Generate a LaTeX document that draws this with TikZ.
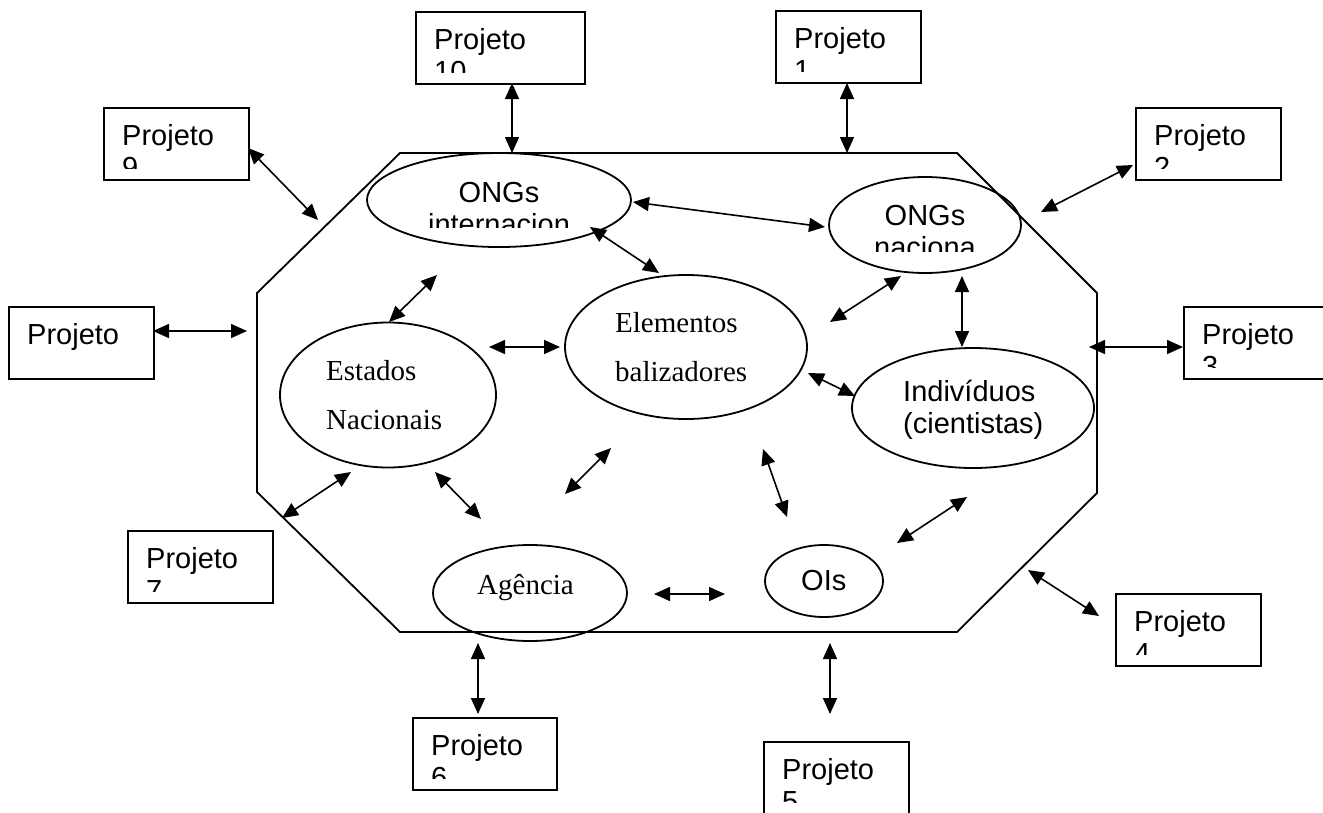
\documentclass[tikz,border=0pt]{standalone}
\usepackage{fontspec}
\setmainfont{Liberation Serif}
\newfontfamily\arialfont{Liberation Sans}
\usetikzlibrary{positioning, shapes.geometric, arrows.meta}

\tikzset{
  projbox/.style={draw, rectangle, line width=1.8pt, inner sep=0pt, anchor=north west},
  elbox/.style={draw, ellipse, line width=1.8pt, inner sep=0pt},
  sanstxt/.style={font=\arialfont\fontsize{29}{32}\selectfont, inner sep=0pt},
  serftxt/.style={font=\fontsize{29}{49}\selectfont, inner sep=0pt},
  dbl/.style={{Triangle[length=16pt,width=14pt]}-{Triangle[length=16pt,width=14pt]}, line width=1.6pt},
}

\begin{document}
\begin{tikzpicture}[x=1pt, y=-1pt]
  \useasboundingbox (0,0) rectangle (1323,812);

  % outer octagon
  \draw[line width=1.8pt] (400,153) -- (957,153) -- (1097,293) -- (1097,493)
    -- (957,632) -- (400,632) -- (257,492) -- (257,293) -- cycle;

  % project boxes
  \foreach \nm/\bx/\by/\bw/\num in {p10/415/11/169/10, p1/775/10/145/1,
      p9/103/107/145/9, p2/1135/107/145/2, p3/1183/306/145/3,
      p7/127/530/145/7, p4/1115/593/145/4, p6/412/717/144/6, p5/763/741/145/5} {
    \node[projbox, minimum width=\bw, minimum height=72] (\nm) at (\bx,\by) {};
    \begin{scope}
      \clip (\bx,\by) rectangle ++(\bw,61);
      \node[sanstxt, align=left, anchor=base west] (\nm-txt) at (\bx+19,\by+70) {Projeto\\\num};
    \end{scope}
  }
  \node[projbox, minimum width=145, minimum height=72] (p8) at (8,306) {};
  \node[sanstxt, anchor=base west] (p8-txt) at (27,344) {Projeto};

  % actors
  \node[elbox, minimum width=264, minimum height=94] (ongi) at (499,200) {};
  \node[elbox, minimum width=192, minimum height=96] (ongn) at (925,225) {};
  \node[elbox, minimum width=242, minimum height=144] (ele) at (686,347) {};
  \node[elbox, minimum width=216, minimum height=145] (est) at (388,395) {};
  \node[elbox, minimum width=242, minimum height=120] (ind) at (973,408) {};
  \node[elbox, minimum width=194, minimum height=96] (age) at (530,593) {};
  \node[elbox, minimum width=118, minimum height=72] (ois) at (824,581) {};

  \begin{scope}
    \clip (360,150) rectangle (640,227);
    \node[sanstxt, align=center, anchor=base] (ongi-txt) at (499,234) {ONGs\\internacion};
  \end{scope}
  \begin{scope}
    \clip (820,170) rectangle (1030,251);
    \node[sanstxt, align=center, anchor=base] (ongn-txt) at (925,257) {ONGs\\naciona};
  \end{scope}
  \node[serftxt, align=left, anchor=base west] (ele-txt) at (615,381) {Elementos\\balizadores};
  \node[serftxt, align=left, anchor=base west] (est-txt) at (326,429) {Estados\\Nacionais};
  \node[sanstxt, align=left, anchor=base west] (ind-txt) at (903,433) {Indivíduos\\(cientistas)};
  \node[serftxt, anchor=base west] (age-txt) at (477,594) {Agência};
  \node[sanstxt, anchor=base west] (ois-txt) at (801,590) {OIs};

  % arrow ends
  \coordinate (p10-a) at (512,83);   \coordinate (oct-p10) at (512,153);
  \coordinate (p1-a) at (847,83);    \coordinate (oct-p1) at (847,153);
  \coordinate (p9-a) at (248,148);   \coordinate (oct-p9) at (318,220);
  \coordinate (p2-a) at (1133,165);  \coordinate (oct-p2) at (1041,212);
  \coordinate (p8-a) at (153,331);   \coordinate (oct-p8) at (247,331);
  \coordinate (p3-a) at (1183,347);  \coordinate (oct-p3) at (1089,347);
  \coordinate (p7-a) at (282,518);   \coordinate (est-p7) at (351,472);
  \coordinate (p4-a) at (1099,616);  \coordinate (oct-p4) at (1028,570);
  \coordinate (p6-a) at (478,714);   \coordinate (age-p6) at (478,643);
  \coordinate (p5-a) at (830,714);   \coordinate (oct-p5) at (830,643);
  \coordinate (ongi-ongn) at (633,202); \coordinate (ongn-ongi) at (825,227);
  \coordinate (ongi-ele) at (590,227);  \coordinate (ele-ongi) at (659,273);
  \coordinate (est-ongi) at (389,322);  \coordinate (ongi-est) at (437,275);
  \coordinate (est-ele) at (489,347);   \coordinate (ele-est) at (560,347);
  \coordinate (ongn-ele) at (901,276);  \coordinate (ele-ongn) at (830,322);
  \coordinate (ongn-ind) at (962,276);  \coordinate (ind-ongn) at (962,347);
  \coordinate (ele-ind) at (808,373);   \coordinate (ind-ele) at (855,396);
  \coordinate (est-age) at (435,472);   \coordinate (age-est) at (481,519);
  \coordinate (age-ele) at (565,494);   \coordinate (ele-age) at (611,448);
  \coordinate (ele-ois) at (763,449);   \coordinate (ois-ele) at (787,517);
  \coordinate (ois-ind) at (897,543);   \coordinate (ind-ois) at (967,497);
  \coordinate (age-ois) at (654,594);   \coordinate (ois-age) at (725,594);

  % links
  \foreach \s/\t in {p10-a/oct-p10, p1-a/oct-p1, p9-a/oct-p9, p2-a/oct-p2,
      p8-a/oct-p8, p3-a/oct-p3, p7-a/est-p7, p4-a/oct-p4, p6-a/age-p6, p5-a/oct-p5,
      ongi-ongn/ongn-ongi, ongi-ele/ele-ongi, est-ongi/ongi-est, est-ele/ele-est,
      ongn-ele/ele-ongn, ongn-ind/ind-ongn, ele-ind/ind-ele, est-age/age-est,
      age-ele/ele-age, ele-ois/ois-ele, ois-ind/ind-ois, age-ois/ois-age}
    \draw[dbl] (\s) -- (\t);
\end{tikzpicture}
\end{document}
